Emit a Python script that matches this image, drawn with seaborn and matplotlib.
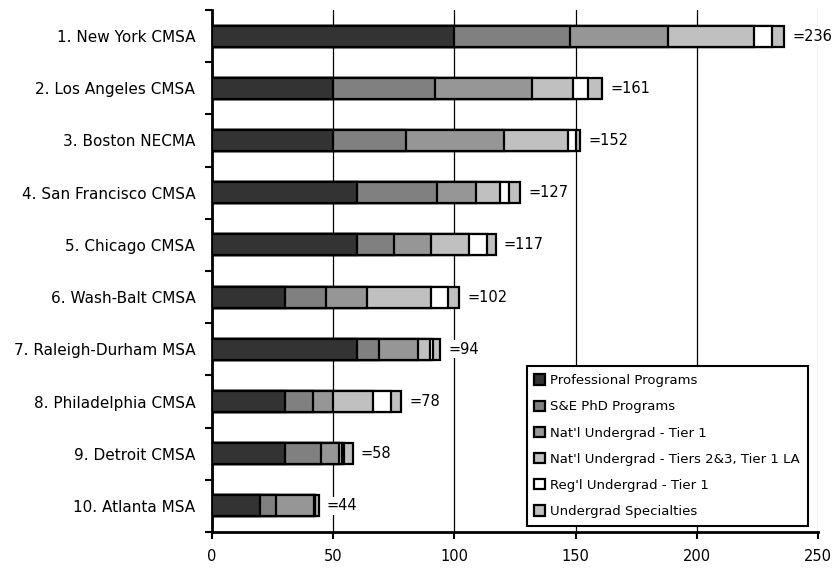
import numpy as np
import pandas as pd
import seaborn as sns
import matplotlib.pyplot as plt
from matplotlib.ticker import FixedLocator

cities = ['1. New York CMSA', '2. Los Angeles CMSA', '3. Boston NECMA',
          '4. San Francisco CMSA', '5. Chicago CMSA', '6. Wash-Balt CMSA',
          '7. Raleigh-Durham MSA', '8. Philadelphia CMSA', '9. Detroit CMSA',
          '10. Atlanta MSA']

professional = [100, 50, 50, 60, 60, 30, 60, 30, 30, 20]
se_phd = [47.5, 42, 30, 33, 15, 17, 9, 11.5, 15, 6.5]
natl_tier1 = [40.5, 40, 40.5, 16, 15.5, 17, 16, 8.5, 7.5, 15.5]
natl_tier23 = [35.5, 17, 26.5, 10, 15.5, 26.5, 5, 16.5, 1, 0.5]
regl_tier1 = [7.5, 6, 3, 3.5, 7.5, 7, 1, 7.5, 1, 0]
specialties = [5, 6, 2, 4.5, 3.5, 4.5, 3, 4, 3.5, 1.5]
totals = [236, 161, 152, 127, 117, 102, 94, 78, 58, 44]

series = ['Professional Programs', 'S&E PhD Programs', "Nat'l Undergrad - Tier 1",
          "Nat'l Undergrad - Tiers 2&3, Tier 1 LA", "Reg'l Undergrad - Tier 1",
          'Undergrad Specialties']
colors = ['#333333', '#808080', '#969696', '#c0c0c0', '#ffffff', '#c0c0c0']

df = pd.DataFrame({'city': cities})
values = [professional, se_phd, natl_tier1, natl_tier23, regl_tier1, specialties]
cum = np.cumsum(np.array(values), axis=0)
for name, c in zip(series, cum):
    df[name] = c

sns.set_style('white')
plt.rcParams['font.family'] = ['DejaVu Sans']
plt.rcParams['text.color'] = 'black'
plt.rcParams['xtick.color'] = 'black'
plt.rcParams['ytick.color'] = 'black'

fig = plt.figure(figsize=(8.4, 5.71), dpi=100)
ax = fig.add_axes([212 / 840, 1 - 532 / 571, 606 / 840, 522 / 571])

# stack by overlaying cumulative bars, widest first
for name, col in reversed(list(zip(series, colors))):
    sns.barplot(data=df, x=name, y='city', orient='h', color=col, width=0.4,
                edgecolor='black', linewidth=1.6, label=name, ax=ax, zorder=3)

for i, t in enumerate(totals):
    ax.annotate(f'={t}', xy=(t, i), xytext=(6, 0), textcoords='offset points',
                va='center', ha='left', fontsize=10.5, zorder=4,
                bbox=dict(facecolor='white', edgecolor='none', pad=1))

ax.set_xlim(0, 250)
ax.set_ylim(9.5, -0.5)
ax.set_xticks([0, 50, 100, 150, 200, 250])
ax.set_xlabel('')
ax.set_ylabel('')
ax.grid(axis='x', color='black', linewidth=0.9, zorder=0)
ax.get_xgridlines()[-1].set_color('#909090')
ax.set_axisbelow(True)
ax.yaxis.set_minor_locator(FixedLocator(np.arange(-0.5, 10, 1)))
ax.tick_params(axis='y', which='major', length=0, pad=12, labelsize=11)
ax.tick_params(axis='y', which='minor', left=True, length=5, width=1.5, color='black')
ax.tick_params(axis='x', bottom=True, length=5, width=1.5, color='black', pad=7, labelsize=10.5)
for s in ['top', 'right']:
    ax.spines[s].set_visible(False)
for s in ['left', 'bottom']:
    ax.spines[s].set_color('black')
    ax.spines[s].set_linewidth(2)

handles, labels = ax.get_legend_handles_labels()
leg = ax.legend(handles[::-1], labels[::-1], loc='lower right',
                bbox_to_anchor=(596 / 606, 6 / 522), borderaxespad=0,
                fontsize=9.5, frameon=True,
                fancybox=False, edgecolor='black', framealpha=1,
                handlelength=0.8, handleheight=0.8, handletextpad=0.4,
                labelspacing=1.0, borderpad=0.6)
leg.get_frame().set_linewidth(1.5)
leg.set_zorder(5)

fig.savefig('out.png', dpi=100)
